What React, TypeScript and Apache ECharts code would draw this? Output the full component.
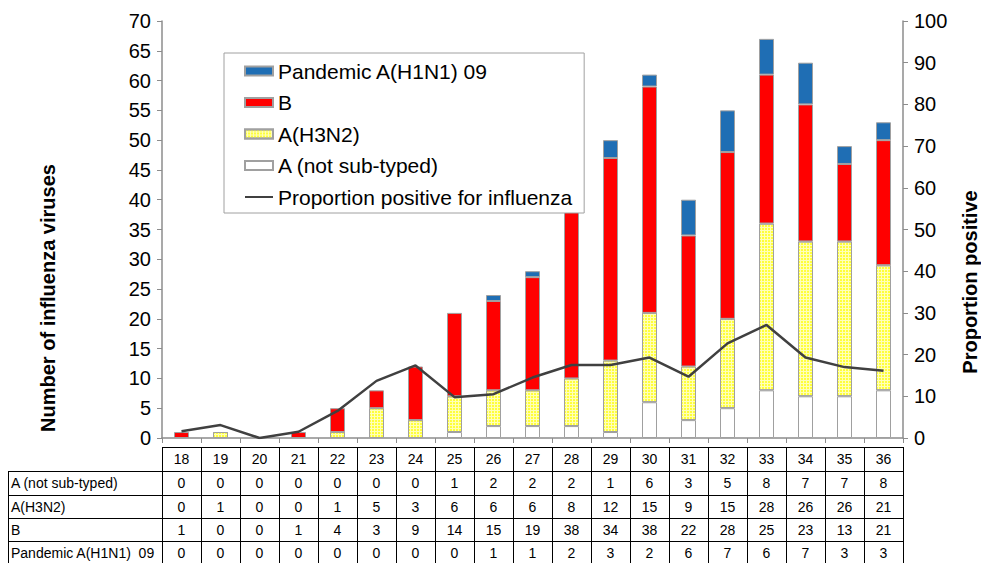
import React, { useEffect, useRef } from 'react';
import * as echarts from 'echarts';

const weeks = ['18', '19', '20', '21', '22', '23', '24', '25', '26', '27', '28', '29', '30', '31', '32', '33', '34', '35', '36'];
const notSubtyped = [0, 0, 0, 0, 0, 0, 0, 1, 2, 2, 2, 1, 6, 3, 5, 8, 7, 7, 8];
const h3n2 = [0, 1, 0, 0, 1, 5, 3, 6, 6, 6, 8, 12, 15, 9, 15, 28, 26, 26, 21];
const fluB = [1, 0, 0, 1, 4, 3, 9, 14, 15, 19, 38, 34, 38, 22, 28, 25, 23, 13, 21];
const h1n1 = [0, 0, 0, 0, 0, 0, 0, 0, 1, 1, 2, 3, 2, 6, 7, 6, 7, 3, 3];
const proportion = [1.6, 3.1, 0, 1.5, 6.5, 13.7, 17.4, 9.8, 10.5, 14.5, 17.5, 17.5, 19.3, 14.7, 22.7, 27.1, 19.3, 17.0, 16.1];

const tableRows: { label: string; values: number[] }[] = [
  { label: 'A (not sub-typed)', values: notSubtyped },
  { label: 'A(H3N2)', values: h3n2 },
  { label: 'B', values: fluB },
  { label: 'Pandemic A(H1N1)  09', values: h1n1 },
];

const FONT = 'Liberation Sans, Arial, sans-serif';
const GL = 162;
const GR = 903;
const GT = 21;
const GB = 438;

const nz = (arr: number[]) => arr.map((v) => (v === 0 ? null : v));

function buildTable() {
  const els: any[] = [];
  const colW = (GR - GL) / weeks.length;
  const rowY = [447, 471, 495, 518, 541, 564];
  const lineStyle = { stroke: '#000', lineWidth: 1 };
  const px = (v: number) => Math.round(v) + 0.5;
  els.push({ type: 'line', shape: { x1: GL, y1: px(rowY[0]), x2: GR, y2: px(rowY[0]) }, style: lineStyle, silent: true });
  for (let r = 1; r < rowY.length; r++) {
    els.push({ type: 'line', shape: { x1: 8, y1: px(rowY[r]), x2: GR, y2: px(rowY[r]) }, style: lineStyle, silent: true });
  }
  els.push({ type: 'line', shape: { x1: px(8), y1: rowY[1], x2: px(8), y2: 570 }, style: lineStyle, silent: true });
  for (let k = 0; k <= weeks.length; k++) {
    const x = px(GL + k * colW);
    els.push({ type: 'line', shape: { x1: x, y1: rowY[0], x2: x, y2: 570 }, style: lineStyle, silent: true });
  }
  weeks.forEach((w, i) => {
    els.push({
      type: 'text', x: GL + (i + 0.5) * colW, y: (rowY[0] + rowY[1]) / 2,
      style: { text: w, font: `14px ${FONT}`, fill: '#000', textAlign: 'center', textVerticalAlign: 'middle' }, silent: true,
    });
  });
  tableRows.forEach((row, r) => {
    const yc = (rowY[r + 1] + rowY[r + 2]) / 2;
    els.push({
      type: 'text', x: 11, y: yc,
      style: { text: row.label, font: `14px ${FONT}`, fill: '#000', textAlign: 'left', textVerticalAlign: 'middle' }, silent: true,
    });
    row.values.forEach((v, i) => {
      els.push({
        type: 'text', x: GL + (i + 0.5) * colW, y: yc,
        style: { text: String(v), font: `14px ${FONT}`, fill: '#000', textAlign: 'center', textVerticalAlign: 'middle' }, silent: true,
      });
    });
  });
  els.push({
    type: 'text', x: 48, y: 298, rotation: Math.PI / 2,
    style: { text: 'Number of influenza viruses', font: `bold 20px ${FONT}`, fill: '#000', textAlign: 'center', textVerticalAlign: 'middle' }, silent: true,
  });
  els.push({
    type: 'text', x: 970, y: 282, rotation: Math.PI / 2,
    style: { text: 'Proportion positive', font: `bold 20px ${FONT}`, fill: '#000', textAlign: 'center', textVerticalAlign: 'middle' }, silent: true,
  });
  return els;
}

export default function App() {
  const ref = useRef<HTMLDivElement>(null);
  useEffect(() => {
    if (!ref.current) return;
    const chart = echarts.init(ref.current, undefined, { renderer: 'svg' });
    const border = { borderColor: '#a0a0a0', borderWidth: 1 };
    const barCommon = { type: 'bar', stack: 'total', barWidth: 15, yAxisIndex: 0 };
    chart.setOption({
      animation: false,
      backgroundColor: '#fff',
      textStyle: { fontFamily: FONT },
      grid: { left: GL, right: 981 - GR, top: GT, bottom: 563 - GB, containLabel: false },
      legend: {
        left: 224, top: 53,
        orient: 'vertical',
        backgroundColor: '#fff',
        borderColor: '#a0a0a0', borderWidth: 1,
        padding: [7, 12, 5, 20],
        itemWidth: 28, itemHeight: 9, itemGap: 9.5,
        textStyle: { fontSize: 21, color: '#000', fontFamily: FONT, lineHeight: 22 },
        data: [
          { name: 'Pandemic A(H1N1) 09', icon: 'rect' },
          { name: 'B', icon: 'rect' },
          { name: 'A(H3N2)', icon: 'rect' },
          { name: 'A (not sub-typed)', icon: 'rect' },
          { name: 'Proportion positive for influenza', icon: 'path://M0,0 H28 V2 H0 Z' },
        ],
      },
      xAxis: {
        type: 'category', data: weeks,
        axisLine: { lineStyle: { color: '#8c8c8c', width: 1.5 } },
        axisTick: { show: true, length: 5, lineStyle: { color: '#8c8c8c' } },
        axisLabel: { show: false },
      },
      yAxis: [
        {
          type: 'value', min: 0, max: 70, interval: 5,
          splitLine: { show: false },
          axisLine: { show: true, lineStyle: { color: '#8c8c8c', width: 1.5 } },
          axisTick: { show: true, length: 5, lineStyle: { color: '#8c8c8c' } },
          axisLabel: { fontSize: 20, color: '#000', margin: 11 },
        },
        {
          type: 'value', min: 0, max: 100, interval: 10,
          splitLine: { show: false },
          axisLine: { show: true, lineStyle: { color: '#8c8c8c', width: 1.5 } },
          axisTick: { show: true, length: 5, lineStyle: { color: '#8c8c8c' } },
          axisLabel: { fontSize: 20, color: '#000', margin: 11 },
        },
      ],
      series: [
        { ...barCommon, name: 'A (not sub-typed)', data: nz(notSubtyped), itemStyle: { color: '#ffffff', ...border } },
        {
          ...barCommon, name: 'A(H3N2)', data: nz(h3n2),
          itemStyle: {
            color: '#ffffb8', ...border,
            decal: { symbol: 'rect', symbolSize: 1, color: '#ffff3a', dashArrayX: [2, 1], dashArrayY: [2, 1], rotation: 0 },
          },
        },
        { ...barCommon, name: 'B', data: nz(fluB), itemStyle: { color: '#ff0000', ...border } },
        { ...barCommon, name: 'Pandemic A(H1N1) 09', data: nz(h1n1), itemStyle: { color: '#1f6eb4', ...border } },
        {
          type: 'line', name: 'Proportion positive for influenza', yAxisIndex: 1, data: proportion,
          symbol: 'none', z: 5,
          lineStyle: { color: '#404040', width: 2.5 }, itemStyle: { color: '#404040' },
        },
      ],
      graphic: buildTable(),
    });
    return () => chart.dispose();
  }, []);
  return <div ref={ref} style={{ position: 'absolute', left: 0, top: 0, width: 981, height: 563 }} />;
}
